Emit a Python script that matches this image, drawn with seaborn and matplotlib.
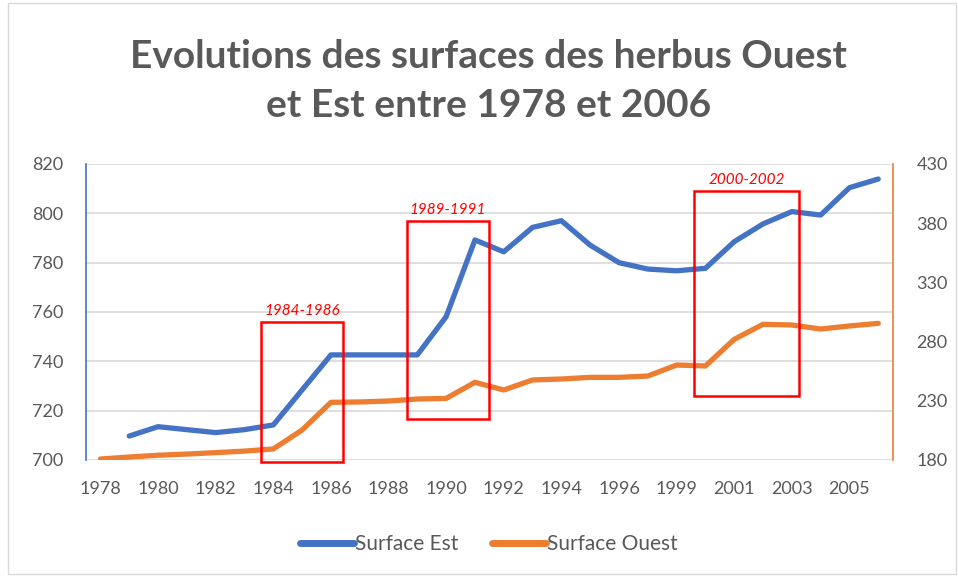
import pandas as pd
import matplotlib.pyplot as plt
import seaborn as sns
from matplotlib.patches import Rectangle
from matplotlib.lines import Line2D

# data
years = [1978, 1979, 1980, 1981, 1982, 1983, 1984, 1985, 1986, 1987, 1988, 1989, 1990, 1991,
         1992, 1993, 1994, 1995, 1996, 1997, 1999, 2000, 2001, 2002, 2003, 2004, 2005, 2006]
surface_est = [None, 709.7, 713.5, 712.3, 711.1, 712.3, 714.2, 728.4, 742.6, 742.6, 742.6, 742.6, 758.1, 789.2,
               784.4, 794.3, 797.0, 787.1, 780.0, 777.4, 776.7, 777.7, 788.5, 795.7, 800.7, 799.3, 810.4, 813.9]
surface_ouest = [180.8, 182.5, 184.0, 185.0, 186.2, 187.5, 189.3, 205.3, 228.7, 229.0, 229.8, 231.5, 232.0, 245.6,
                 239.1, 247.6, 248.4, 249.8, 249.8, 250.9, 260.2, 259.4, 281.9, 294.6, 294.0, 290.6, 293.2, 295.4]
periods = ["1984-1986", "1989-1991", "2000-2002"]
# boxes: (x start, x end) in category index, (bottom, top) in left-axis units
box_x = [(5.58, 8.42), (10.63, 13.48), (20.6, 24.24)]
box_y = [(699.3, 756.1), (716.5, 796.9), (726.1, 809.2)]

df = pd.DataFrame({"pos": range(len(years)), "year": years,
                   "Surface Est": surface_est, "Surface Ouest": surface_ouest})
df["Surface Est"] = pd.to_numeric(df["Surface Est"])

sns.set_style("white")
plt.rcParams["font.family"] = ["Lato", "DejaVu Sans"]

blue = "#4472C4"
orange = "#ED7D31"
grey = "#595959"

fig = plt.figure(figsize=(9.58, 5.77), dpi=100)
ax = fig.add_axes([0.0898, 0.2028, 0.842, 0.513])
ax2 = ax.twinx()

sns.lineplot(data=df, x="pos", y="Surface Est", ax=ax, color=blue, linewidth=3.8,
             solid_capstyle="round", solid_joinstyle="round", zorder=3)
sns.lineplot(data=df, x="pos", y="Surface Ouest", ax=ax2, color=orange, linewidth=3.8,
             solid_capstyle="round", solid_joinstyle="round", zorder=3)

ax.set_xlim(-0.5, len(years) - 0.5)
ax.set_ylim(700, 820)
ax2.set_ylim(180, 430)
ax.set_yticks(range(700, 821, 20))
ax2.set_yticks(range(180, 431, 50))
ax.set_xticks(df["pos"][::2])
ax.set_xticklabels(df["year"][::2])

ax.grid(axis="y", color="#D9D9D9", linewidth=1.2)
ax.set_axisbelow(True)
for a in (ax, ax2):
    a.set_xlabel("")
    a.set_ylabel("")
    a.tick_params(length=0, labelsize=13, colors=grey)
    for s in a.spines.values():
        s.set_visible(False)
ax.spines["left"].set_visible(True)
ax.spines["left"].set_color(blue)
ax.spines["left"].set_linewidth(1.2)
ax2.spines["right"].set_visible(True)
ax2.spines["right"].set_color(orange)
ax2.spines["right"].set_linewidth(1.2)
ax.tick_params(axis="x", pad=15)
ax.tick_params(axis="y", pad=16.5)
ax2.tick_params(axis="y", pad=17)

# highlight boxes, drawn on the twin but placed in left-axis units
for label, (x0, x1), (y0, y1) in zip(periods, box_x, box_y):
    rect = Rectangle((x0, y0), x1 - x0, y1 - y0, fill=False, edgecolor="red",
                     linewidth=1.8, transform=ax.transData, zorder=5, clip_on=False)
    ax2.add_patch(rect)
    ax2.text((x0 + x1) / 2, y1 + 1.5, label, transform=ax.transData, color="red",
             fontstyle="italic", fontsize=11, ha="center", va="bottom", zorder=6)

fig.suptitle("Evolutions des surfaces des herbus Ouest\net Est entre 1978 et 2006",
             x=0.51, y=0.86, va="center", fontsize=28, fontweight="bold", color=grey,
             linespacing=1.48)

handles = [Line2D([], [], color=blue, linewidth=5, solid_capstyle="round"),
           Line2D([], [], color=orange, linewidth=5, solid_capstyle="round")]
fig.legend(handles, ["Surface Est", "Surface Ouest"], loc="center", bbox_to_anchor=(0.51, 0.057),
           ncol=2, frameon=False, fontsize=15, labelcolor=grey, handlelength=2.6,
           handletextpad=0.05, columnspacing=1.6)

fig.add_artist(Rectangle((0.008, 0.005), 0.99, 0.99, transform=fig.transFigure, fill=False,
                         edgecolor="#D9D9D9", linewidth=1))

fig.savefig("out.png", dpi=100)
